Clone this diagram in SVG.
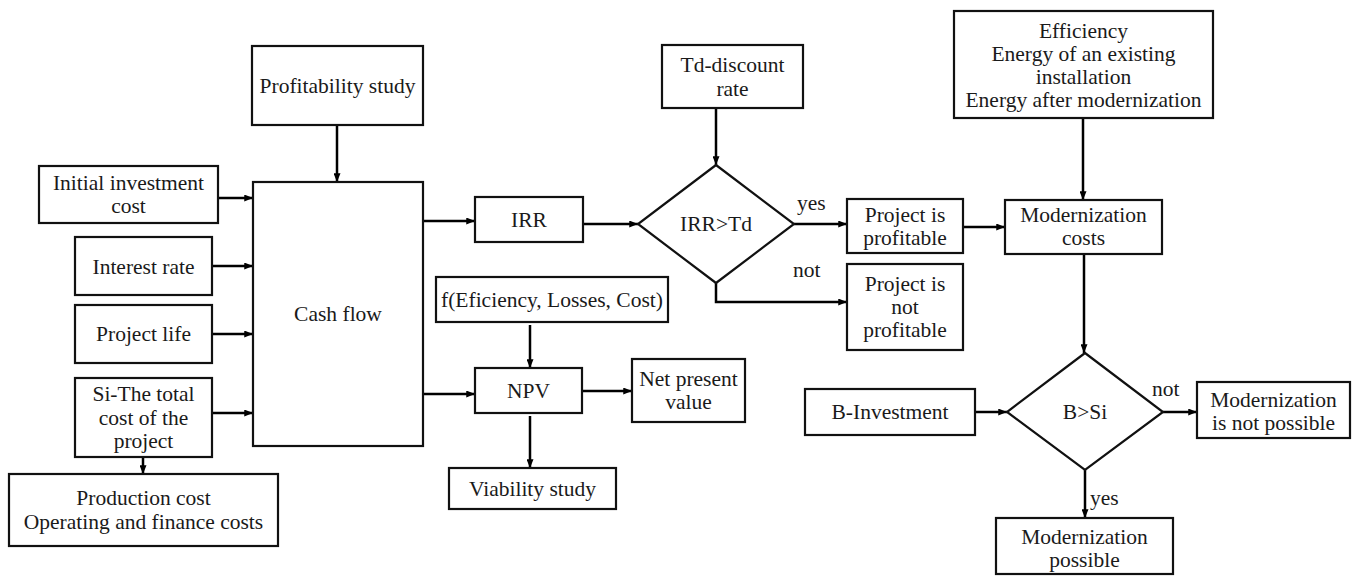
<svg xmlns="http://www.w3.org/2000/svg" width="1354" height="578" viewBox="0 0 1354 578">
<defs>
<marker id="ah" viewBox="0 0 10 8" refX="10" refY="4" markerWidth="9" markerHeight="7" markerUnits="userSpaceOnUse" orient="auto">
<path d="M0,0 L10,4 L0,8 z" fill="#000"/>
</marker>
<style>
.box{fill:#fff;stroke:#111;stroke-width:2.2}
.t{font-family:"Liberation Serif","Times New Roman",serif;font-size:21.5px;fill:#1a1a1a;text-anchor:middle;dominant-baseline:central}
.lbl{font-family:"Liberation Serif","Times New Roman",serif;font-size:21.5px;fill:#1a1a1a;dominant-baseline:central}
.c{fill:none;stroke:#000;stroke-width:2.5;marker-end:url(#ah)}
</style>
</defs>
<rect width="1354" height="578" fill="#fff"/>

<g id="connectors">
<path class="c" d="M337,125 V182"/>
<path class="c" d="M218,198 H253"/>
<path class="c" d="M212,266 H253"/>
<path class="c" d="M212,334 H253"/>
<path class="c" d="M212,413 H253"/>
<path class="c" d="M143,457 V474"/>
<path class="c" d="M423,221 H475"/>
<path class="c" d="M423,394 H475"/>
<path class="c" d="M583,224 H638"/>
<path class="c" d="M716,108 V165"/>
<path class="c" d="M794,224 H847"/>
<path class="c" d="M716,283 V302 H847"/>
<path class="c" d="M530,325 V368"/>
<path class="c" d="M582,391 H632"/>
<path class="c" d="M530,416 V468"/>
<path class="c" d="M963,227 H1005"/>
<path class="c" d="M1083,118 V200"/>
<path class="c" d="M1084,254 V353"/>
<path class="c" d="M975,412 H1007"/>
<path class="c" d="M1163,412 H1197"/>
<path class="c" d="M1085,470 V518"/>
<text class="lbl" x="797" y="203">yes</text>
<text class="lbl" x="793" y="270">not</text>
<text class="lbl" x="1152" y="389">not</text>
<text class="lbl" x="1090" y="498">yes</text>
</g>

<g id="profitability-study">
<rect class="box" x="252" y="46" width="171" height="79"/>
<text class="t" x="337.5" y="86">Profitability study</text>
</g>

<g id="cash-flow">
<rect class="box" x="253" y="182" width="170" height="264"/>
<text class="t" x="338" y="314">Cash flow</text>
</g>

<g id="initial-investment">
<rect class="box" x="39" y="166" width="179" height="57"/>
<text class="t" x="128.5" y="183">Initial investment</text>
<text class="t" x="128.5" y="206">cost</text>
</g>

<g id="interest-rate">
<rect class="box" x="75" y="237" width="137" height="58"/>
<text class="t" x="143.5" y="267">Interest rate</text>
</g>

<g id="project-life">
<rect class="box" x="75" y="305" width="137" height="58"/>
<text class="t" x="143.5" y="334">Project life</text>
</g>

<g id="si-total-cost">
<rect class="box" x="75" y="378" width="137" height="79"/>
<text class="t" x="143.5" y="394">Si-The total</text>
<text class="t" x="143.5" y="418">cost of the</text>
<text class="t" x="143.5" y="441">project</text>
</g>

<g id="production-cost">
<rect class="box" x="9" y="474" width="269" height="72"/>
<text class="t" x="143.5" y="498">Production cost</text>
<text class="t" x="143.5" y="522">Operating and finance costs</text>
</g>

<g id="irr">
<rect class="box" x="475" y="197" width="108" height="45"/>
<text class="t" x="529" y="220">IRR</text>
</g>

<g id="f-efficiency">
<rect class="box" x="436" y="277" width="232" height="45"/>
<text class="t" x="552" y="300">f(Eficiency, Losses, Cost)</text>
</g>

<g id="npv">
<rect class="box" x="475" y="368" width="107" height="45"/>
<text class="t" x="528.5" y="391">NPV</text>
</g>

<g id="net-present-value">
<rect class="box" x="632" y="359" width="113" height="63"/>
<text class="t" x="688.5" y="379">Net present</text>
<text class="t" x="688.5" y="402">value</text>
</g>

<g id="viability-study">
<rect class="box" x="449" y="468" width="167" height="41"/>
<text class="t" x="532.5" y="489">Viability study</text>
</g>

<g id="td-discount-rate">
<rect class="box" x="662" y="45" width="141" height="63"/>
<text class="t" x="732.5" y="65">Td-discount</text>
<text class="t" x="732.5" y="89">rate</text>
</g>

<g id="irr-td-decision">
<polygon class="box" points="716,165 794,224 716,283 638,224"/>
<text class="t" x="716" y="224">IRR&gt;Td</text>
</g>

<g id="project-profitable">
<rect class="box" x="847" y="199" width="116" height="54"/>
<text class="t" x="905" y="215">Project is</text>
<text class="t" x="905" y="238">profitable</text>
</g>

<g id="project-not-profitable">
<rect class="box" x="847" y="264" width="116" height="86"/>
<text class="t" x="905" y="284">Project is</text>
<text class="t" x="905" y="307">not</text>
<text class="t" x="905" y="330">profitable</text>
</g>

<g id="efficiency-energy">
<rect class="box" x="954" y="11" width="259" height="107"/>
<text class="t" x="1083.5" y="31">Efficiency</text>
<text class="t" x="1083.5" y="54">Energy of an existing</text>
<text class="t" x="1083.5" y="77">installation</text>
<text class="t" x="1083.5" y="100">Energy after modernization</text>
</g>

<g id="modernization-costs">
<rect class="box" x="1005" y="200" width="157" height="54"/>
<text class="t" x="1083.5" y="215">Modernization</text>
<text class="t" x="1083.5" y="238">costs</text>
</g>

<g id="b-investment">
<rect class="box" x="805" y="389" width="170" height="46"/>
<text class="t" x="890" y="412">B-Investment</text>
</g>

<g id="b-si-decision">
<polygon class="box" points="1085,353 1163,412 1085,470 1007,412"/>
<text class="t" x="1085" y="412">B&gt;Si</text>
</g>

<g id="modernization-not-possible">
<rect class="box" x="1197" y="382" width="153" height="56"/>
<text class="t" x="1273.5" y="400">Modernization</text>
<text class="t" x="1273.5" y="423">is not possible</text>
</g>

<g id="modernization-possible">
<rect class="box" x="996" y="518" width="177" height="56"/>
<text class="t" x="1084.5" y="537">Modernization</text>
<text class="t" x="1084.5" y="560">possible</text>
</g>
</svg>
